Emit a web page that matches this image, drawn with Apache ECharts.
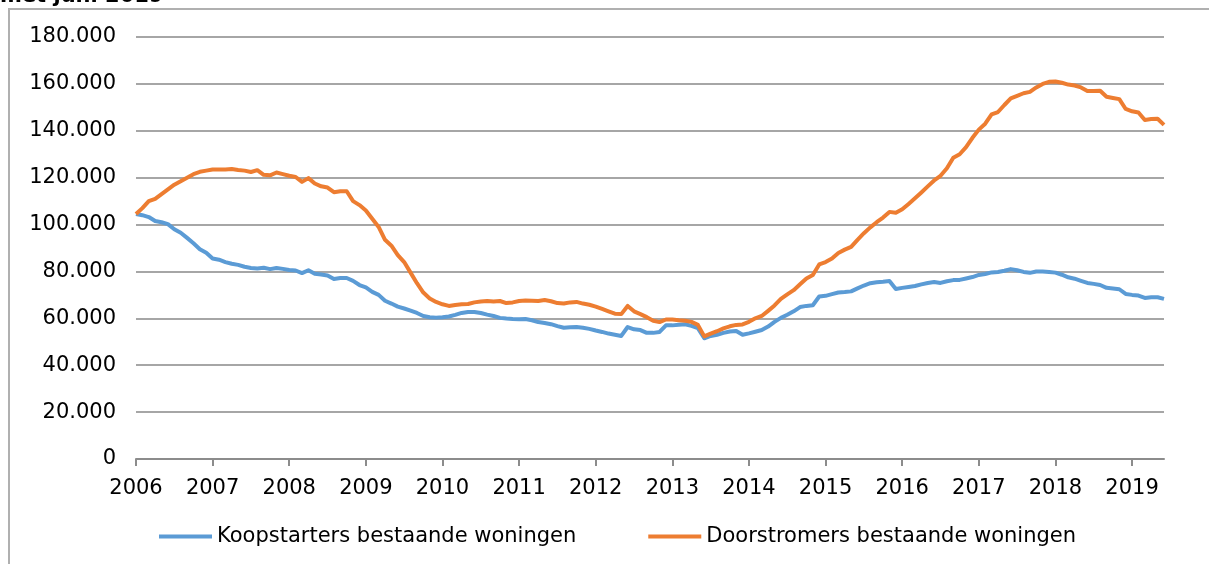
<!DOCTYPE html>
<html>
<head>
<meta charset="utf-8">
<title>Koopstarters en doorstromers</title>
<script src="https://cdn.jsdelivr.net/npm/echarts@6/dist/echarts.min.js"></script>
<style>
  html, body { margin: 0; padding: 0; background: #fff; }
  #main { width: 1209px; height: 564px; }
</style>
</head>
<body>
<div id="main"></div>
<script>
// maandcijfers (x 1000), jan 2006 t/m jun 2019
var koopstarters = [
  104.5, 104, 103.2, 101.5, 101, 100.2, 98, 96.5, 94.3, 92, 89.5, 88,
  85.5, 85, 84, 83.3, 82.8, 82, 81.5, 81.3, 81.6, 81, 81.5, 81.1,
  80.6, 80.4, 79.3, 80.5, 79, 78.7, 78.3, 76.8, 77.2, 77.2, 76, 74.2,
  73.2, 71.3, 70, 67.5, 66.3, 65, 64.2, 63.3, 62.3, 61, 60.5, 60.3,
  60.5, 60.8, 61.5, 62.3, 62.7, 62.7, 62.3, 61.6, 61, 60.2, 59.9, 59.7,
  59.6, 59.7, 59.2, 58.4, 58, 57.5, 56.7, 56, 56.2, 56.3, 56, 55.5,
  54.8, 54.2, 53.5, 53, 52.5, 56.3, 55.3, 55, 53.8, 53.8, 54.2, 57,
  57, 57.3, 57.5, 56.8, 55.8, 51.5, 52.5, 53, 53.8, 54.4, 54.6, 53,
  53.6, 54.3, 55, 56.5, 58.5, 60.2, 61.5, 63, 64.8, 65.3, 65.6, 69.3,
  69.6, 70.3, 71, 71.2, 71.5, 72.8, 74, 75, 75.4, 75.6, 75.9, 72.5,
  73, 73.4, 73.8, 74.5, 75.1, 75.5, 75.1, 75.8, 76.3, 76.4, 77, 77.6,
  78.5, 78.9, 79.6, 79.8, 80.3, 81, 80.5, 79.8, 79.4, 80, 80, 79.8,
  79.5, 78.6, 77.5, 76.9, 76, 75.1, 74.7, 74.2, 73, 72.7, 72.4, 70.4,
  70, 69.7, 68.7, 69, 69, 68.3
];

var doorstromers = [
  104.5, 107, 110, 111, 113, 115, 117, 118.5, 120, 121.5, 122.5, 123,
  123.5, 123.5, 123.5, 123.7, 123.3, 123, 122.4, 123.2, 121.2, 121, 122.2, 121.5,
  120.8, 120.3, 118.2, 119.8, 117.5, 116.3, 115.8, 113.8, 114.2, 114.2, 110, 108.3,
  106, 102.5, 99, 93.5, 91, 87, 84, 79.5, 75, 71, 68.5, 67,
  66, 65.3, 65.7, 66, 66.1, 66.8, 67.2, 67.4, 67.2, 67.4, 66.5, 66.8,
  67.4, 67.6, 67.5, 67.4, 67.8, 67.3, 66.5, 66.3, 66.8, 67, 66.3, 65.8,
  65, 64, 63, 62, 61.8, 65.3, 63, 61.8, 60.5, 59, 58.4, 59.5,
  59.5, 59.2, 59, 58.5, 57.2, 52.3, 53.5, 54.5, 55.7, 56.6, 57.2, 57.4,
  58.5, 60, 61, 63.2, 65.5, 68.3, 70.2, 72, 74.5, 77, 78.5, 83,
  84, 85.5, 87.9, 89.3, 90.5, 93.5, 96.3, 98.8, 101, 103, 105.4, 105,
  106.5, 108.8, 111.2, 113.7, 116.3, 118.8, 120.8, 124, 128.5, 130, 133, 137,
  140.5, 143, 147, 148, 151, 153.8, 154.9, 156, 156.6, 158.5, 160, 160.9,
  161, 160.5, 159.7, 159.3, 158.5, 157, 157, 157.1, 154.5, 154, 153.5, 149.3,
  148.3, 147.8, 144.6, 145, 145.1, 142.5
];

var seriesNames = ["Koopstarters bestaande woningen", "Doorstromers bestaande woningen"];
var startYear = 2006;

// maand-categorieen, label alleen bij januari
var months = [];
for (var i = 0; i < koopstarters.length; i++) {
  var y = startYear + Math.floor(i / 12);
  var m = (i % 12) + 1;
  months.push(y + "-" + (m < 10 ? "0" + m : m));
}

function isJan(index) {
  return index % 12 === 0;
}

var font = "DejaVu Sans";
var myChart = echarts.init(document.getElementById("main"));
var option = {
  animation: false,
  title: {
    text: "met juni 2019",
    left: 0,
    top: -14,
    padding: 0,
    textStyle: { fontFamily: font, fontSize: 21, fontWeight: "bold", color: "#000" }
  },
  graphic: [
    {
      type: "rect",
      silent: true,
      z: -1,
      shape: { x: 9, y: 9, width: 1400, height: 800 },
      style: { fill: "none", stroke: "#b0b0b0", lineWidth: 2 }
    }
  ],
  color: ["#5b9bd5", "#ed7d31"],
  legend: {
    left: 159,
    top: 526,
    padding: 0,
    itemGap: 72,
    itemWidth: 53,
    itemHeight: 4,
    icon: "rect",
    data: seriesNames,
    textStyle: { fontFamily: font, fontSize: 21, color: "#000" }
  },
  grid: {
    left: 136,
    right: 45,
    top: 37,
    bottom: 105
  },
  xAxis: {
    type: "category",
    boundaryGap: false,
    data: months,
    axisLine: { lineStyle: { color: "#8c8c8c", width: 2 } },
    axisTick: {
      interval: function (index) { return isJan(index); },
      length: 7,
      lineStyle: { color: "#8c8c8c", width: 2 }
    },
    axisLabel: {
      interval: function (index) { return isJan(index); },
      formatter: function (val) { return val.substring(0, 4); },
      margin: 19,
      fontFamily: font,
      fontSize: 21,
      color: "#000"
    }
  },
  yAxis: {
    type: "value",
    min: 0,
    max: 180,
    interval: 20,
    axisLine: { show: false },
    axisTick: { show: false },
    axisLabel: {
      margin: 20,
      fontFamily: font,
      fontSize: 21,
      color: "#000",
      formatter: function (v) { return v === 0 ? "0" : v + ".000"; }
    },
    splitLine: { lineStyle: { color: "#a6a6a6", width: 2 } }
  },
  series: [
    {
      name: seriesNames[0],
      type: "line",
      data: koopstarters,
      showSymbol: false,
      lineStyle: { width: 4, join: "round" }
    },
    {
      name: seriesNames[1],
      type: "line",
      data: doorstromers,
      showSymbol: false,
      lineStyle: { width: 4, join: "round" }
    }
  ]
};
myChart.setOption(option);
</script>
</body>
</html>
